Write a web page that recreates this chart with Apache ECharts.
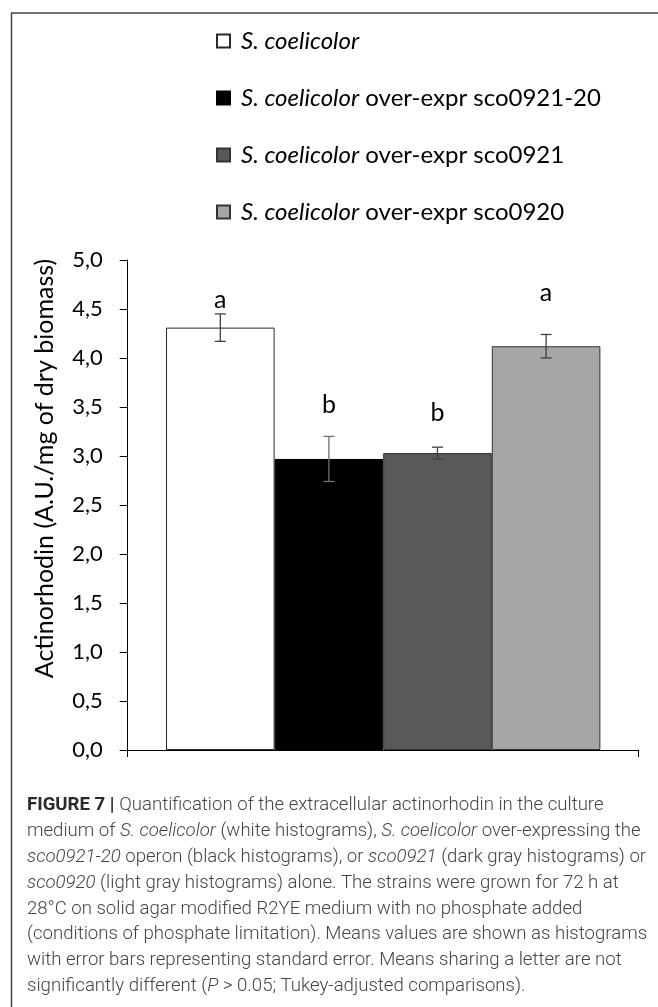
<!DOCTYPE html>
<html>
<head>
<meta charset="utf-8">
<script src="https://cdn.jsdelivr.net/npm/echarts@6/dist/echarts.min.js"></script>
<style>
  html, body { margin: 0; padding: 0; background: #fff; }
  #chart { width: 658px; height: 1007px; }
</style>
</head>
<body>
<div id="chart"></div>
<script>
// ---- data ----
const strains = [
  'S. coelicolor',
  'S. coelicolor over-expr sco0921-20',
  'S. coelicolor over-expr sco0921',
  'S. coelicolor over-expr sco0920'
];
const means = [4.31, 2.97, 3.03, 4.12];
const stdErrors = [0.14, 0.23, 0.06, 0.12];
const letters = ['a', 'b', 'b', 'a'];
const letterValues = [4.59, 3.52, 3.44, 4.66];
const yMin = 0, yMax = 5, yStep = 0.5;
const yAxisTitle = 'Actinorhodin (A.U./mg of dry biomass)';

// caption lines: [style, text] segments
const captionLines = [
  [['b', 'FIGURE 7 | '], ['n', 'Quantification of the extracellular actinorhodin in the culture']],
  [['n', 'medium of '], ['i', 'S. coelicolor'], ['n', ' (white histograms), '], ['i', 'S. coelicolor'], ['n', ' over-expressing the']],
  [['i', 'sco0921-20'], ['n', ' operon (black histograms), or '], ['i', 'sco0921'], ['n', ' (dark gray histograms) or']],
  [['i', 'sco0920'], ['n', ' (light gray histograms) alone. The strains were grown for 72 h at']],
  [['n', '28°C on solid agar modified R2YE medium with no phosphate added']],
  [['n', '(conditions of phosphate limitation). Means values are shown as histograms']],
  [['n', 'with error bars representing standard error. Means sharing a letter are not']],
  [['n', 'significantly different ('], ['i', 'P'], ['n', ' > 0.05; Tukey-adjusted comparisons).']]
];

// ---- styles ----
const fills = ['#ffffff', '#000000', '#595959', '#a6a6a6'];
const borders = ['#2a2a2a', '#000000', '#333333', '#333333'];
const errColors = ['#404040', '#707070', '#404040', '#404040'];
const FONT = 'Lato, "Open Sans", sans-serif';
const CAP_FONT = 'Roboto, "Liberation Sans", sans-serif';
const CAT_GAP = 0.15;

const chart = echarts.init(document.getElementById('chart'), null, { renderer: 'canvas' });

const barSeries = strains.map((name, i) => ({
  name: name,
  type: 'bar',
  data: [means[i]],
  barGap: '0%',
  barCategoryGap: (CAT_GAP * 100) + '%',
  itemStyle: { color: fills[i], borderColor: borders[i], borderWidth: 1 },
  emphasis: { disabled: true },
  z: 2
}));

const errData = means.map((m, i) => [0, m, stdErrors[i], letterValues[i], i]);

const errSeries = {
  type: 'custom',
  silent: true,
  z: 5,
  data: errData,
  encode: { x: 0, y: 1 },
  renderItem: function (params, api) {
    const idx = api.value(4);
    const mean = api.value(1), err = api.value(2), lv = api.value(3);
    const catW = api.size([1, 0])[0];
    const barW = catW * (1 - CAT_GAP) / strains.length;
    const base = api.coord([0, mean]);
    const cx = base[0] + (idx - (strains.length - 1) / 2) * barW;
    const yTop = api.coord([0, mean + err])[1];
    const yBot = api.coord([0, mean - err])[1];
    const yL = api.coord([0, lv])[1];
    const hw = 5.5;
    const st = { stroke: errColors[idx], lineWidth: 1.3 };
    return {
      type: 'group',
      children: [
        { type: 'line', shape: { x1: cx, y1: yTop, x2: cx, y2: yBot }, style: st },
        { type: 'line', shape: { x1: cx - hw, y1: yTop, x2: cx + hw, y2: yTop }, style: st },
        { type: 'line', shape: { x1: cx - hw, y1: yBot, x2: cx + hw, y2: yBot }, style: st },
        { type: 'text', x: cx, y: yL, style: { text: letters[idx], fill: '#000', font: '25px ' + FONT, align: 'center', verticalAlign: 'middle' } }
      ]
    };
  }
};

const captionGraphics = captionLines.map((segs, k) => ({
  type: 'text',
  left: 27,
  top: 808 - 12 + k * 25.86,
  style: {
    text: segs.map(s => '{' + s[0] + '|' + s[1] + '}').join(''),
    rich: {
      n: { fontFamily: CAP_FONT, fontSize: 18.6, fill: '#444', fontWeight: 300 },
      i: { fontFamily: CAP_FONT, fontSize: 18.6, fill: '#444', fontStyle: 'italic', fontWeight: 300 },
      b: { fontFamily: CAP_FONT, fontSize: 18.6, fill: '#2a2a2a', fontWeight: 'bold' }
    }
  }
}));

const option = {
  animation: false,
  backgroundColor: '#fff',
  grid: { left: 127.7, right: 19.3, top: 260, bottom: 257, containLabel: false },
  legend: {
    orient: 'vertical',
    left: 211,
    top: 24,
    icon: 'rect',
    itemWidth: 13,
    itemHeight: 13,
    itemGap: 33,
    selectedMode: false,
    data: strains,
    formatter: function (name) {
      return name.replace('S. coelicolor', '{i|S. coelicolor}');
    },
    textStyle: {
      fontFamily: FONT, fontSize: 24, color: '#000', lineHeight: 24, padding: [0, 0, 0, 6],
      rich: { i: { fontFamily: FONT, fontSize: 24, fontStyle: 'italic', color: '#000', lineHeight: 24 } }
    }
  },
  xAxis: {
    type: 'category',
    data: [''],
    axisLine: { lineStyle: { color: '#000', width: 1 } },
    axisTick: { show: true, length: 7, inside: false, lineStyle: { color: '#000' } },
    axisLabel: { show: false },
    splitLine: { show: false }
  },
  yAxis: {
    type: 'value',
    min: yMin, max: yMax, interval: yStep,
    name: yAxisTitle,
    nameLocation: 'middle',
    nameGap: 70,
    nameRotate: 90,
    nameTextStyle: { fontFamily: FONT, fontSize: 25, color: '#000', padding: [0, 0, 0, 73] },
    axisLine: { show: true, lineStyle: { color: '#000', width: 1 } },
    axisTick: { show: true, length: 8, lineStyle: { color: '#000' } },
    axisLabel: {
      fontFamily: FONT, fontSize: 22, color: '#000', margin: 25,
      formatter: v => v.toFixed(1).replace('.', ',')
    },
    splitLine: { show: false }
  },
  series: barSeries.concat([errSeries]),
  graphic: [
    { type: 'rect', left: 9, top: 10.5, shape: { x: 0, y: 0, width: 800, height: 1100 }, style: { fill: 'none', stroke: '#444', lineWidth: 1.5 }, silent: true, z: -1 }
  ].concat(captionGraphics)
};

chart.setOption(option);
</script>
</body>
</html>
